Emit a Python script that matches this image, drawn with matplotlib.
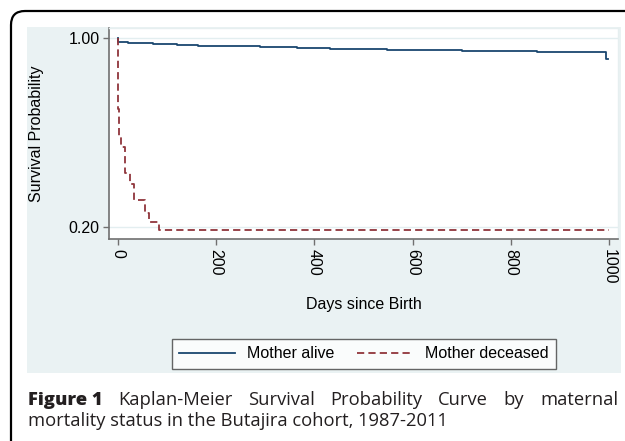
import matplotlib
matplotlib.use('Agg')
import matplotlib.pyplot as plt
from matplotlib.patches import FancyBboxPatch, Rectangle
from matplotlib.transforms import IdentityTransform

# values (Kaplan-Meier step points)
alive_days = [0, 1, 20, 72, 120, 163, 208, 289, 364, 432, 548, 700, 853, 993, 998]
alive_surv = [1.0, 0.984, 0.980, 0.976, 0.972, 0.967, 0.965, 0.961, 0.956, 0.953,
              0.949, 0.946, 0.942, 0.910, 0.910]
dead_days = [0, 0.6, 3, 7, 15, 24, 33, 56, 63, 84, 1000]
dead_surv = [1.0, 0.70, 0.58, 0.54, 0.43, 0.38, 0.315, 0.258, 0.223, 0.188, 0.188]
series_labels = ['Mother alive', 'Mother deceased']
x_ticks = [0, 200, 400, 600, 800, 1000]
y_ticks = [0.20, 1.00]
y_ticklabels = ['0.20', '1.00']
caption_bold = 'Figure 1'
caption_line1 = 'Kaplan-Meier Survival Probability Curve by maternal'
caption_line2 = 'mortality status in the Butajira cohort, 1987-2011'

W, H = 625, 441
fig = plt.figure(figsize=(W / 100, H / 100), dpi=100)
fig.patch.set_facecolor('white')
plt.rcParams['font.family'] = ['Liberation Sans', 'DejaVu Sans']

# rounded frame (runs off right and bottom edge)
frame = FancyBboxPatch((11, -60), 700, H - 11 + 60,
                       boxstyle='round,pad=0,rounding_size=14',
                       transform=IdentityTransform(), fc='none', ec='black', lw=1.6)
fig.add_artist(frame)

# stata graph region background
bg = Rectangle((27 / W, 1 - 373 / H), 594 / W, 346 / H, transform=fig.transFigure,
               fc='#eaf2f3', ec='none', zorder=0)
fig.add_artist(bg)

ax = fig.add_axes([109 / W, 1 - 239 / H, 509 / W, 211 / H])
ax.set_facecolor('white')

navy = '#1a476f'
maroon = '#90353b'
ax.plot(alive_days, alive_surv, drawstyle='steps-post', color=navy, lw=1.3,
        label=series_labels[0], zorder=3)
ax.plot(dead_days, dead_surv, drawstyle='steps-post', color=maroon, lw=1.3,
        linestyle=(0, (4, 2.3)), label=series_labels[1], zorder=3)

ax.set_xlim(-18.3, 1018.3)
ax.set_ylim(0.1492, 1.0423)

ax.set_yticks(y_ticks)
ax.set_yticklabels(y_ticklabels)
ax.set_xticks(x_ticks)
ax.set_xticklabels([str(t) for t in x_ticks], rotation=-90)
for y in y_ticks:
    ax.axhline(y, color='#e3eef0', lw=1.0, zorder=1)

ax.tick_params(axis='both', length=4.3, width=1.0, color='#707070',
               labelsize=11.5, labelcolor='black')
ax.tick_params(axis='y', pad=2.5)
ax.tick_params(axis='x', pad=3)

for s in ['top', 'right']:
    ax.spines[s].set_color('#e6eff0')
    ax.spines[s].set_linewidth(1.0)
for s in ['left', 'bottom']:
    ax.spines[s].set_color('#707070')
    ax.spines[s].set_linewidth(1.2)

ax.set_xlabel('Days since Birth', fontsize=11.5, va='center')
ax.xaxis.set_label_coords(0.5, -(305 - 239) / 211)
ax.set_ylabel('Survival Probability', fontsize=11.5, va='center')
ax.yaxis.set_label_coords(-(109 - 37) / 509, 0.5)

leg = fig.legend(loc='center', bbox_to_anchor=(364 / W, 1 - 354 / H), ncol=2,
                 fontsize=11.5, frameon=True, fancybox=False, handlelength=3.5,
                 handletextpad=0.75, columnspacing=1.4, borderpad=0.45)
leg.get_frame().set_edgecolor('#404040')
leg.get_frame().set_linewidth(1.0)
leg.get_frame().set_facecolor('white')

# caption, first line justified between x=28 and x=618
cap_font = ['Open Sans', 'DejaVu Sans']
cap_size = 13.2
cap_color = '#231f20'
renderer = fig.canvas.get_renderer()
words = [(caption_bold, 'heavy')] + [(w, 'normal') for w in caption_line1.split(' ')]
texts = []
for w, weight in words:
    t = fig.text(0, 1 - 405 / H, w, fontsize=cap_size, family=cap_font,
                 fontweight=weight, color=cap_color, va='baseline')
    texts.append(t)
widths = [t.get_window_extent(renderer).width for t in texts]
left, right = 28, 618
gap = (right - left - sum(widths)) / (len(texts) - 1)
x = left
for t, wd in zip(texts, widths):
    t.set_x(x / W)
    x += wd + gap
fig.text(28 / W, 1 - 426 / H, caption_line2, fontsize=cap_size, family=cap_font,
         color=cap_color, va='baseline')

fig.savefig('out.png', dpi=100)
